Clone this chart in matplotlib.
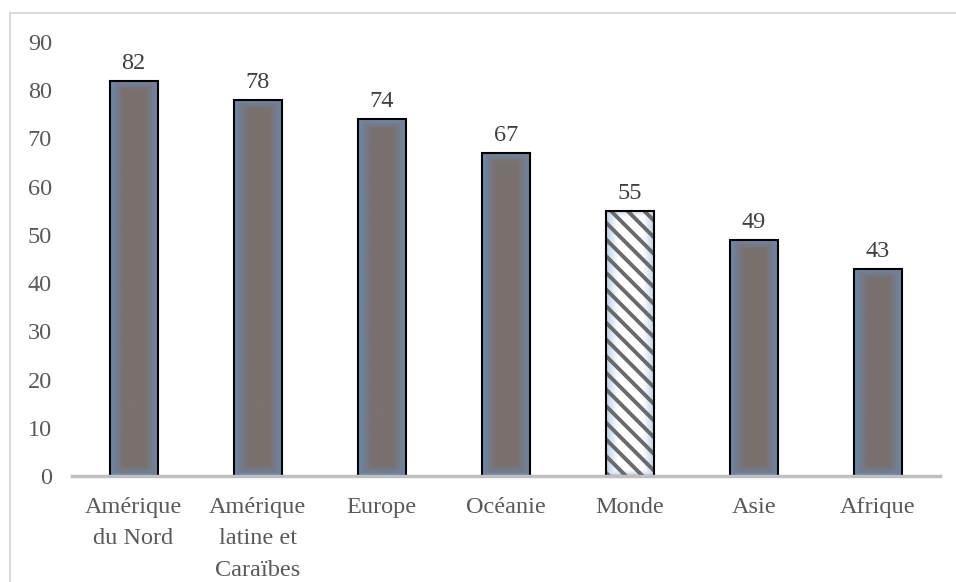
import numpy as np
import matplotlib
matplotlib.use("Agg")
import matplotlib.pyplot as plt
from matplotlib.colors import to_rgb
from matplotlib.lines import Line2D

categories = ["Amérique\ndu Nord", "Amérique\nlatine et\nCaraïbes", "Europe", "Océanie", "Monde", "Asie", "Afrique"]
values = [82, 78, 74, 67, 55, 49, 43]
highlight = "Monde"
yticks = [0, 10, 20, 30, 40, 50, 60, 70, 80, 90]

plt.rcParams['font.family'] = ['Liberation Serif', 'DejaVu Serif']
plt.rcParams['hatch.linewidth'] = 2.8

W, H = 956, 582
fig = plt.figure(figsize=(W / 100, H / 100), dpi=100)
left, right = 71.5, 940
y0, y90 = 476, 42
ax = fig.add_axes([left / W, 1 - y0 / H, (right - left) / W, (y0 - y90) / H])

x = np.arange(len(categories))
bw = 0.387
ax.set_xlim(-0.5, len(categories) - 0.5)
ax.set_ylim(0, 90)

def grad_img(h_px, w_px, center, edge, band_x, band_y):
    c = np.array(to_rgb(center)); e = np.array(to_rgb(edge))
    xs = np.linspace(0, w_px, int(w_px))
    ys = np.linspace(0, h_px, max(int(h_px), 2))
    dx = np.minimum(xs, w_px - xs)[None, :]
    dy = np.minimum(ys, h_px - ys)[:, None]
    tx = np.clip(dx / band_x, 0, 1)
    ty = np.clip(dy / band_y, 0, 1)
    t = np.minimum(tx, ty)
    t = t ** 0.8
    return e[None, None, :] * (1 - t[..., None]) + c[None, None, :] * t[..., None]

px_per_unit = (y0 - y90) / 90.0
bw_px = bw * (right - left) / len(categories)

for xi, v, cat in zip(x, values, categories):
    h_px = v * px_per_unit
    if cat == highlight:
        img = grad_img(h_px, bw_px, "#ffffff", "#b4cdea", 12, 6)
    else:
        img = grad_img(h_px, bw_px, "#7a706e", "#6a8cb2", 14, 10)
    ax.imshow(img, extent=(xi - bw / 2, xi + bw / 2, 0, v), aspect='auto',
              origin='lower', zorder=2, interpolation='bilinear')
    if cat == highlight:
        ax.bar(xi, v, width=bw, facecolor='none', edgecolor='#6a6a6a',
               hatch='\\\\', linewidth=0, zorder=3)
    ax.bar(xi, v, width=bw, facecolor='none', edgecolor='black', linewidth=1.5, zorder=4)
    ax.annotate(str(v), (xi, v), xytext=(0, 5), textcoords='offset points',
                ha='center', va='bottom', fontsize=17.5, color='#404040')

ax.set_aspect('auto')
ax.set_xlim(-0.5, len(categories) - 0.5)
ax.set_ylim(0, 90)
ax.set_yticks(yticks)
ax.set_xticks(x)
ax.set_xticklabels(categories, linespacing=1.65)
ax.tick_params(axis='both', length=0, labelsize=17.5, labelcolor='#595959')
ax.tick_params(axis='y', pad=14)
ax.tick_params(axis='x', pad=15)
for s in ['top', 'right', 'left']:
    ax.spines[s].set_visible(False)
ax.spines['bottom'].set_color('#bfbfbf')
ax.spines['bottom'].set_linewidth(2.5)
ax.spines['bottom'].set_zorder(5)

# chart frame
fig.add_artist(Line2D([10 / W, 1], [1 - 13 / H, 1 - 13 / H], color='#d9d9d9', linewidth=1.5, transform=fig.transFigure))
fig.add_artist(Line2D([10 / W, 10 / W], [0, 1 - 13 / H], color='#d9d9d9', linewidth=1.5, transform=fig.transFigure))

fig.savefig("out.png", dpi=100)
